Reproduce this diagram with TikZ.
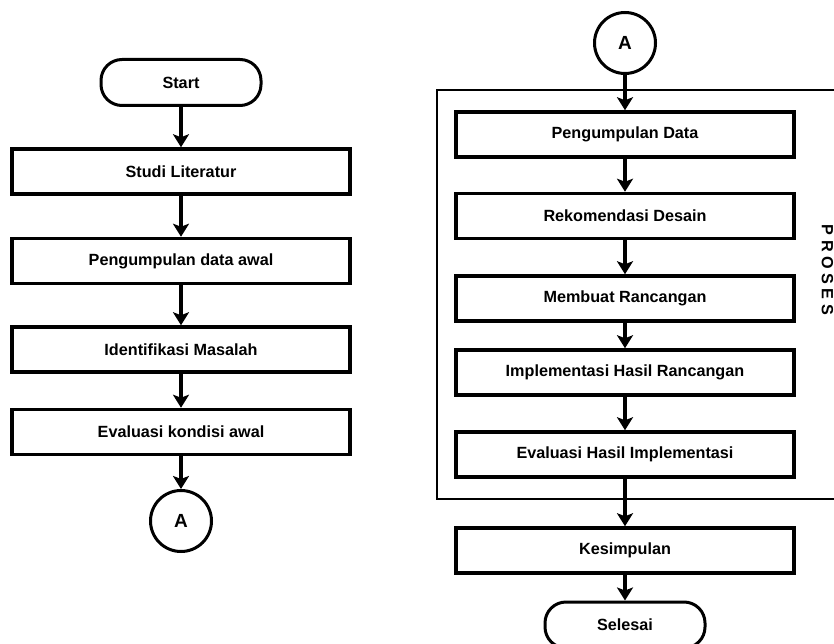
\documentclass[tikz,border=0pt]{standalone}
\usepackage{fontspec}
\setmainfont{Liberation Sans}
\usetikzlibrary{arrows.meta}
\begin{document}
\begin{tikzpicture}[x=1pt,y=-1pt,
  lbl/.style={font=\fontsize{16.2}{19}\selectfont\bfseries},
  box/.style={lbl, draw, line width=3.5pt, minimum width=338pt, minimum height=45pt, inner sep=0pt},
  term/.style={lbl, draw, line width=3pt, rounded corners=21pt, minimum width=160pt, minimum height=46pt, inner sep=0pt},
  conn/.style={draw, circle, line width=3pt, minimum size=61pt, inner sep=0pt, font=\fontsize{19}{22}\selectfont\bfseries},
  arr/.style={-{Stealth[length=13pt,width=16pt,inset=3pt]}, line width=3.5pt}]
\useasboundingbox (0,0) rectangle (834,644);
% container
\draw[line width=2pt] (840,90) -- (436.5,90) -- (436.5,499) -- (840,499);
\node[lbl, rotate=-90] (proses) at (827.5,270) {P R O S E S};
% left column
\node[term] (start) at (181,82.5) {Start};
\node[box] (s1) at (181,171.5) {Studi Literatur};
\node[box] (s2) at (181,261) {Pengumpulan data awal};
\node[box] (s3) at (181,349.5) {Identifikasi Masalah};
\node[box] (s4) at (181,432) {Evaluasi kondisi awal};
\node[conn] (a1) at (181,521) {A};
% right column
\node[conn] (a2) at (625,43) {A};
\node[box] (r1) at (625,134.5) {Pengumpulan Data};
\node[box] (r2) at (625,216) {Rekomendasi Desain};
\node[box] (r3) at (625,298.5) {Membuat Rancangan};
\node[box] (r4) at (625,372.5) {Implementasi Hasil Rancangan};
\node[box] (r5) at (625,454.5) {Evaluasi Hasil Implementasi};
\node[box] (r6) at (625,550.5) {Kesimpulan};
\node[term] (sel) at (625,625) {Selesai};
% arrows
\draw[arr] (start) -- (s1);
\draw[arr] (s1) -- (s2);
\draw[arr] (s2) -- (s3);
\draw[arr] (s3) -- (s4);
\draw[arr] (s4) -- (a1);
\draw[arr] (a2) -- (r1);
\draw[arr] (r1) -- (r2);
\draw[arr] (r2) -- (r3);
\draw[arr] (r3) -- (r4);
\draw[arr] (r4) -- (r5);
\draw[arr] (r5) -- (r6);
\draw[arr] (r6) -- (sel);
\end{tikzpicture}
\end{document}
